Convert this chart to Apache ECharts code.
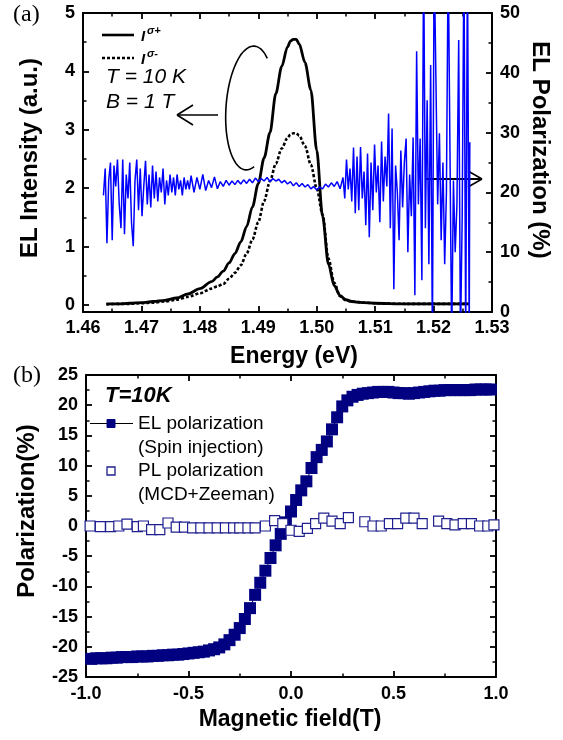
<!DOCTYPE html>
<html>
<head>
<meta charset="utf-8">
<script src="https://cdn.jsdelivr.net/npm/echarts@6/dist/echarts.min.js"></script>
<style>
html,body{margin:0;padding:0;background:#fff;}
#chart{width:563px;height:740px;}
</style>
</head>
<body>
<div id="chart"></div>
<script>
// ---------- Panel (a): EL intensity spectra ----------
const intensityEnergy = [1.4640,1.4660,1.4680,1.4700,1.4720,1.4740,1.4760,1.4780,1.4800,1.4820,1.4830,1.4840,1.4850,1.4860,1.4870,1.4880,1.4890,1.4900,1.4910,1.4920,1.4930,1.4940,1.4950,1.4955,1.4960,1.4965,1.4970,1.4980,1.4990,1.5000,1.5010,1.5020,1.5030,1.5040,1.5050,1.5060,1.5070,1.5080,1.5100,1.5150,1.5200,1.5260];
const sigmaPlus = [0.02,0.02,0.03,0.04,0.06,0.08,0.12,0.19,0.28,0.40,0.48,0.58,0.72,0.88,1.08,1.34,1.68,2.08,2.52,2.95,3.62,4.08,4.42,4.52,4.55,4.55,4.47,4.15,3.68,2.65,1.52,0.70,0.33,0.16,0.09,0.06,0.05,0.04,0.03,0.02,0.02,0.02];
const sigmaMinus = [0.01,0.02,0.02,0.03,0.04,0.06,0.09,0.14,0.20,0.28,0.32,0.36,0.45,0.55,0.68,0.88,1.12,1.42,1.78,2.12,2.42,2.68,2.86,2.92,2.94,2.94,2.90,2.72,2.40,2.00,1.55,0.80,0.38,0.15,0.08,0.06,0.05,0.04,0.03,0.02,0.02,0.02];

// EL polarization (%) vs energy (eV), right axis
const polarizationData = [
[1.4635,19.5],[1.4638,24.0],[1.4641,11.5],[1.4644,22.0],[1.4647,25.0],[1.4650,12.0],[1.4653,24.5],[1.4656,21.0],[1.4659,25.5],[1.4662,18.0],
[1.4665,14.0],[1.4668,25.5],[1.4671,13.0],[1.4674,23.0],[1.4677,19.0],[1.4680,25.0],[1.4683,15.0],[1.4686,11.0],[1.4689,22.0],[1.4692,25.5],
[1.4695,17.0],[1.4698,24.0],[1.4701,16.0],[1.4704,21.0],[1.4707,25.3],[1.4710,18.0],[1.4713,23.0],[1.4716,17.5],[1.4719,24.5],[1.4722,19.0],
[1.4725,23.5],[1.4728,18.5],[1.4731,22.5],[1.4734,20.0],[1.4737,24.0],[1.4740,18.0],[1.4743,22.0],[1.4746,19.5],[1.4749,23.0],[1.4752,20.0],
[1.4755,22.5],[1.4758,19.5],[1.4761,23.0],[1.4764,20.5],[1.4767,22.0],[1.4770,19.5],[1.4773,22.5],[1.4776,20.5],[1.4779,22.0],[1.4782,20.5],
[1.4785,22.8],[1.4790,20.0],[1.4795,22.5],[1.4800,20.5],[1.4805,23.0],[1.4810,20.3],[1.4815,22.0],[1.4820,20.8],[1.4825,22.6],[1.4830,20.6],
[1.4835,21.8],[1.4840,21.0],[1.4845,22.0],[1.4850,21.2],[1.4855,21.9],[1.4860,21.3],[1.4865,22.0],[1.4870,21.4],[1.4875,22.1],[1.4880,21.5],
[1.4885,22.2],[1.4890,21.6],[1.4895,22.4],[1.4900,21.8],[1.4905,22.3],[1.4910,21.9],[1.4915,22.5],[1.4920,21.8],[1.4925,22.3],[1.4930,21.9],
[1.4935,22.2],[1.4940,21.6],[1.4945,22.0],[1.4950,21.4],[1.4955,21.8],[1.4960,21.1],[1.4965,21.6],[1.4970,21.0],[1.4975,21.5],[1.4980,20.9],
[1.4985,21.3],[1.4990,20.6],[1.4995,21.0],[1.5000,20.4],[1.5005,20.9],[1.5010,20.6],[1.5015,21.4],[1.5020,20.9],[1.5025,21.6],[1.5030,21.0],
[1.5035,21.8],[1.5040,20.6],[1.5045,22.5],
[1.5048,19.0],[1.5051,25.5],[1.5054,20.5],[1.5057,24.0],[1.5060,18.5],[1.5063,27.5],[1.5066,16.5],[1.5069,26.0],[1.5072,17.0],[1.5075,27.6],
[1.5078,19.0],[1.5081,23.5],[1.5084,14.5],[1.5087,26.5],[1.5090,12.5],[1.5093,25.0],[1.5096,17.0],[1.5099,28.0],[1.5102,20.0],[1.5105,24.5],
[1.5108,15.0],[1.5111,28.5],[1.5114,18.5],[1.5117,26.0],[1.5120,21.0],[1.5123,33.2],[1.5126,14.0],[1.5129,30.7],[1.5132,3.8],[1.5135,24.5],
[1.5138,20.0],[1.5141,12.0],[1.5144,27.0],[1.5147,17.5],[1.5150,25.0],[1.5153,29.0],[1.5156,10.0],[1.5159,23.0],[1.5162,16.0],[1.5165,29.2],
[1.5168,2.8],[1.5171,43.6],[1.5174,18.0],
[1.5177,29.0],[1.5180,5.3],[1.5183,60],[1.5186,14.0],[1.5189,35.4],[1.5192,8.0],[1.5195,41.3],[1.5198,-5],[1.5201,60],[1.5204,60],
[1.5207,18.0],[1.5210,29.9],[1.5213,12.0],[1.5216,25.0],[1.5219,8.0],[1.5222,20.0],[1.5225,60],[1.5228,27.6],[1.5231,-5],[1.5234,22.0],
[1.5237,10.0],[1.5240,18.0],[1.5243,45.5],[1.5246,-5],[1.5249,16.0],[1.5252,60],[1.5255,-5],[1.5258,60],[1.5261,-5],[1.5262,28.4]
];

// ---------- Panel (b): polarization vs magnetic field ----------
const elField = [-0.975,-0.950,-0.925,-0.900,-0.875,-0.850,-0.825,-0.800,-0.775,-0.750,-0.725,-0.700,-0.675,-0.650,-0.625,-0.600,-0.575,-0.550,-0.525,-0.500,-0.475,-0.450,-0.425,-0.400,-0.375,-0.350,-0.325,-0.300,-0.275,-0.250,-0.225,-0.200,-0.175,-0.150,-0.125,-0.100,-0.075,-0.050,-0.025,0.000,0.025,0.050,0.075,0.100,0.125,0.150,0.175,0.200,0.225,0.250,0.275,0.300,0.325,0.350,0.375,0.400,0.425,0.450,0.475,0.500,0.525,0.550,0.575,0.600,0.625,0.650,0.675,0.700,0.725,0.750,0.775,0.800,0.825,0.850,0.875,0.900,0.925,0.950,0.975];
const elPolarization = [-22.0,-21.9,-21.9,-21.9,-21.8,-21.8,-21.7,-21.7,-21.7,-21.6,-21.6,-21.6,-21.5,-21.5,-21.4,-21.4,-21.3,-21.3,-21.2,-21.1,-21.0,-20.9,-20.8,-20.6,-20.4,-20.1,-19.6,-18.9,-18.0,-16.9,-15.4,-13.6,-11.4,-9.4,-7.4,-5.3,-3.2,-1.3,0.6,2.4,4.3,5.9,7.4,9.6,11.4,12.6,14.0,16.0,18.0,19.8,20.8,21.4,21.7,21.9,22.0,22.1,22.2,22.2,22.2,22.1,22.0,22.0,21.9,22.0,22.1,22.2,22.3,22.4,22.4,22.5,22.5,22.5,22.5,22.5,22.5,22.6,22.6,22.6,22.6];
const plField = [-0.98,-0.93,-0.88,-0.84,-0.80,-0.75,-0.72,-0.68,-0.64,-0.60,-0.56,-0.52,-0.48,-0.44,-0.40,-0.36,-0.32,-0.28,-0.25,-0.21,-0.175,-0.125,-0.08,-0.04,0.00,0.04,0.08,0.12,0.16,0.20,0.24,0.28,0.36,0.40,0.44,0.48,0.52,0.56,0.60,0.64,0.72,0.76,0.80,0.84,0.88,0.92,0.96,0.99];
const plPolarization = [0.0,-0.1,-0.1,0.0,0.3,-0.1,0.0,-0.6,-0.6,0.5,-0.2,-0.2,-0.3,-0.3,-0.3,-0.3,-0.3,-0.3,-0.3,-0.3,-0.3,0.0,0.9,0.4,-0.7,-0.9,-0.4,0.4,1.3,0.8,0.4,1.4,0.7,0.0,0.0,0.4,0.4,1.3,1.3,0.4,0.8,0.4,0.2,0.4,0.4,0.0,0.0,0.2];

// Tick settings
const energyTicks = {min:1.46, max:1.53, step:0.01};
const intensityTicks = {min:0, max:5, step:1};
const polTicks = {min:0, max:50, step:10};
const fieldTicks = {min:-1, max:1, step:0.5};
const pbTicks = {min:-25, max:25, step:5};

const SANS = '"Liberation Sans", Arial, Helvetica, sans-serif';
const labelStyle = {fontFamily:SANS, fontWeight:'bold', fontSize:18, color:'#000'};

function axisBase(extra){
  const base = {
    type:'value',
    axisLine:{show:true, onZero:false, lineStyle:{color:'#000', width:2}},
    axisTick:{show:true, inside:true, length:6, lineStyle:{color:'#000', width:1.8}},
    minorTick:{show:true, splitNumber:2, length:3.5, lineStyle:{color:'#000', width:1.5}},
    splitLine:{show:false},
    minorSplitLine:{show:false},
    axisLabel:{show:false}
  };
  return Object.assign(base, extra);
}

const chart = echarts.init(document.getElementById('chart'), null, {renderer:'canvas'});

const zip = (xs, ys) => xs.map((x, i) => [x, ys[i]]);

// ellipse annotation (points of the drawn loop)
const ellipsePts = [];
(function(){
  const cx = 250, cy = 108, rx = 24, ry = 62, phi = 4*Math.PI/180;
  for (let d = -55; d >= -290; d -= 5) {
    const t = d*Math.PI/180;
    const x0 = rx*Math.cos(t), y0 = ry*Math.sin(t);
    ellipsePts.push([cx + x0*Math.cos(phi) - y0*Math.sin(phi), cy + x0*Math.sin(phi) + y0*Math.cos(phi)]);
  }
})();

const txt = (x, y, text, font, opts) => Object.assign({
  type:'text', x:x, y:y, silent:true,
  style:Object.assign({text:text, font:font, fill:'#000', textAlign:'left', textVerticalAlign:'middle'}, (opts && opts.style) || {})
}, (opts && opts.el) || {});

const line = (x1, y1, x2, y2, w, extra) => ({
  type:'line', silent:true, shape:{x1:x1, y1:y1, x2:x2, y2:y2},
  style:Object.assign({stroke:'#000', lineWidth:w}, extra || {})
});

const option = {
  animation:false,
  backgroundColor:'#fff',
  grid:[
    {left:83, width:409, top:13, height:292, outerBoundsMode:'none', containLabel:false},
    {left:83, width:409, top:13, height:299, outerBoundsMode:'none', containLabel:false},
    {left:86, width:410, top:375, height:302, outerBoundsMode:'none', containLabel:false}
  ],
  xAxis:[
    axisBase({gridIndex:1, position:'bottom', min:energyTicks.min, max:energyTicks.max, interval:energyTicks.step,
      axisLabel:Object.assign({show:true, margin:7, formatter:v => v.toFixed(2)}, labelStyle)}),
    axisBase({gridIndex:1, position:'top', min:energyTicks.min, max:energyTicks.max, interval:energyTicks.step}),
    {type:'value', gridIndex:0, show:false, min:energyTicks.min, max:energyTicks.max},
    axisBase({gridIndex:2, position:'bottom', min:fieldTicks.min, max:fieldTicks.max, interval:fieldTicks.step,
      axisLabel:Object.assign({show:true, margin:8, formatter:v => v.toFixed(1)}, labelStyle)}),
    axisBase({gridIndex:2, position:'top', min:fieldTicks.min, max:fieldTicks.max, interval:fieldTicks.step})
  ],
  yAxis:[
    axisBase({gridIndex:0, position:'left', min:intensityTicks.min, max:intensityTicks.max, interval:intensityTicks.step,
      axisLine:{show:false, onZero:false},
      axisLabel:Object.assign({show:true, margin:8}, labelStyle)}),
    axisBase({gridIndex:1, position:'left', min:0, max:1, axisTick:{show:false}, minorTick:{show:false}}),
    axisBase({gridIndex:1, position:'right', min:polTicks.min, max:polTicks.max, interval:polTicks.step,
      axisLabel:Object.assign({show:true, margin:8}, labelStyle)}),
    axisBase({gridIndex:2, position:'left', min:pbTicks.min, max:pbTicks.max, interval:pbTicks.step,
      axisLabel:Object.assign({show:true, margin:8}, labelStyle)}),
    axisBase({gridIndex:2, position:'right', min:pbTicks.min, max:pbTicks.max, interval:pbTicks.step})
  ],
  series:[
    {name:'sigma+', type:'line', xAxisIndex:2, yAxisIndex:0, data:zip(intensityEnergy, sigmaPlus),
      showSymbol:false, smooth:0.3, smoothMonotone:'x', z:3,
      lineStyle:{color:'#000', width:2.8}},
    {name:'sigma-', type:'line', xAxisIndex:2, yAxisIndex:0, data:zip(intensityEnergy, sigmaMinus),
      showSymbol:false, smooth:0.3, smoothMonotone:'x', z:3,
      lineStyle:{color:'#000', width:2.6, type:[3,2]}},
    {name:'EL polarization (energy)', type:'line', xAxisIndex:0, yAxisIndex:2, data:polarizationData,
      showSymbol:false, clip:true, z:4,
      lineStyle:{color:'#0000ff', width:1.5}},
    {name:'EL polarization', type:'line', xAxisIndex:3, yAxisIndex:3, data:zip(elField, elPolarization),
      symbol:'rect', symbolSize:12, showAllSymbol:true, z:3,
      itemStyle:{color:'#000080'}, lineStyle:{color:'#000080', width:1}},
    {name:'PL polarization', type:'scatter', xAxisIndex:3, yAxisIndex:3, data:zip(plField, plPolarization),
      symbol:'rect', symbolSize:10, z:4,
      itemStyle:{color:'#ffffff', borderColor:'#1f1f8f', borderWidth:1.2, opacity:1}}
  ],
  graphic:[
    // panel labels
    txt(13, 15, '(a)', '24px "Liberation Serif", "Times New Roman", serif'),
    txt(13, 376, '(b)', '24px "Liberation Serif", "Times New Roman", serif'),
    // axis titles
    {type:'text', x:30, y:158, rotation:Math.PI/2, silent:true,
      style:{text:'EL Intensity (a.u.)', font:'bold 24px ' + SANS, fill:'#000', textAlign:'center', textVerticalAlign:'middle'}},
    {type:'text', x:540, y:150, rotation:-Math.PI/2, silent:true,
      style:{text:'EL Polarization (%)', font:'bold 24px ' + SANS, fill:'#000', textAlign:'center', textVerticalAlign:'middle'}},
    txt(294, 357, 'Energy (eV)', 'bold 23px ' + SANS, {style:{textAlign:'center'}}),
    {type:'text', x:27, y:511, rotation:Math.PI/2, silent:true,
      style:{text:'Polarization(%)', font:'bold 24px ' + SANS, fill:'#000', textAlign:'center', textVerticalAlign:'middle'}},
    txt(290, 720, 'Magnetic field(T)', 'bold 23px ' + SANS, {style:{textAlign:'center'}}),
    // panel (a) legend
    line(102, 35, 134, 35, 2.6),
    txt(141, 37, 'I', 'italic bold 15px ' + SANS),
    txt(147, 31, 'σ+', 'italic bold 11px ' + SANS),
    line(102, 58, 134, 58, 2.6, {lineDash:[3,2]}),
    txt(141, 60, 'I', 'italic bold 15px ' + SANS),
    txt(147, 54, 'σ-', 'italic bold 11px ' + SANS),
    txt(106, 77, 'T = 10 K', 'italic 21px ' + SANS),
    txt(106, 102, 'B = 1 T', 'italic 21px ' + SANS),
    // left arrow
    line(177, 115, 218, 115, 1.6),
    line(177, 115, 193, 105, 1.6),
    line(177, 115, 193, 125, 1.6),
    // ellipse loop
    {type:'polyline', silent:true, shape:{points:ellipsePts, smooth:0.3},
      style:{stroke:'#000', lineWidth:1.6, fill:null}},
    // right arrow
    line(425, 179, 482, 179, 1.8),
    line(482, 179, 468, 171, 1.6),
    line(482, 179, 468, 187, 1.6),
    // panel (b) legend
    txt(105, 396, 'T=10K', 'italic bold 22px ' + SANS),
    line(90, 423.5, 133, 423.5, 1.2),
    {type:'rect', silent:true, shape:{x:107, y:419.5, width:8, height:8}, style:{fill:'#000080', stroke:'#000080', lineWidth:1}},
    txt(138, 424, 'EL polarization', '19px ' + SANS),
    txt(138, 448, '(Spin injection)', '19px ' + SANS),
    {type:'rect', silent:true, shape:{x:107, y:467, width:8, height:8}, style:{fill:'#fff', stroke:'#1f1f8f', lineWidth:1.3}},
    txt(138, 471, 'PL polarization', '19px ' + SANS),
    txt(138, 495, '(MCD+Zeeman)', '19px ' + SANS)
  ]
};

chart.setOption(option);
</script>
</body>
</html>
